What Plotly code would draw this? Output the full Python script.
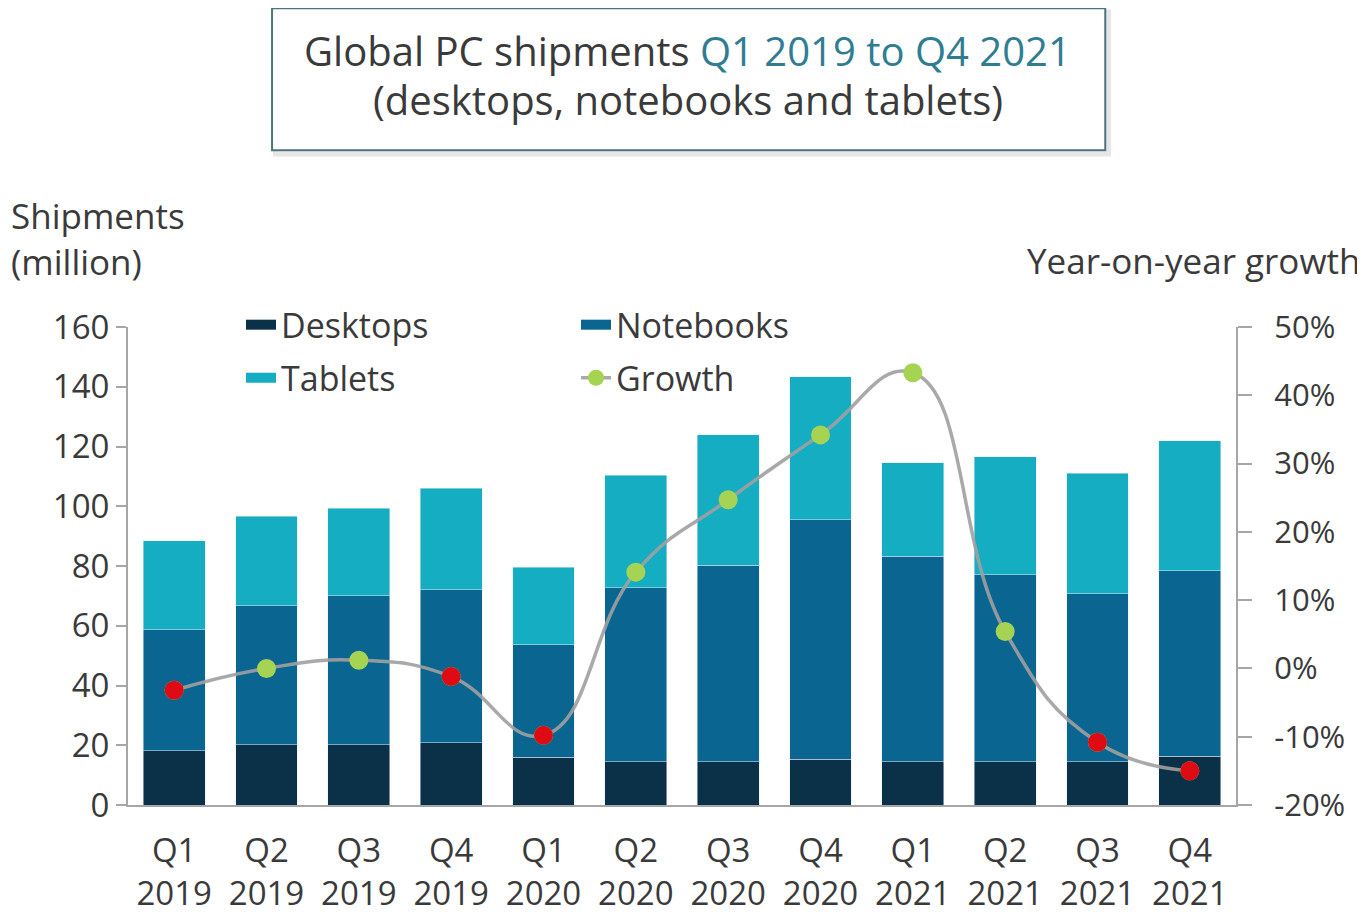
import plotly.graph_objects as go

# --- data (millions of units, YoY growth as fraction) ---
quarters = ["Q1<br>2019", "Q2<br>2019", "Q3<br>2019", "Q4<br>2019",
            "Q1<br>2020", "Q2<br>2020", "Q3<br>2020", "Q4<br>2020",
            "Q1<br>2021", "Q2<br>2021", "Q3<br>2021", "Q4<br>2021"]
desktops = [18.1, 20.1, 20.1, 20.9, 16.0, 14.5, 14.5, 15.3, 14.5, 14.5, 14.5, 16.4]
notebooks = [40.5, 46.6, 49.9, 51.1, 37.6, 58.3, 65.7, 80.2, 68.7, 62.6, 56.2, 62.0]
tablets = [29.9, 29.9, 29.4, 34.1, 26.0, 37.5, 43.8, 47.8, 31.3, 39.4, 40.4, 43.6]
growth = [-0.032, 0.0, 0.012, -0.012, -0.098, 0.141, 0.247, 0.342, 0.433, 0.054, -0.108, -0.150]
growth_ticks = [-0.2, -0.1, 0.0, 0.1, 0.2, 0.3, 0.4, 0.5]
growth_labels = ["-20%", "-10%", "0%", "10%", "20%", "30%", "40%", "50%"]

FONT = "Open Sans"
TXT = "#3a3a3a"
AXIS = "#a6a6a6"
C_DESK = "#0b3149"
C_NOTE = "#0a6690"
C_TAB = "#14adc1"
C_GREEN = "#a6d452"
C_RED = "#de0a14"
C_LINE = "rgba(160,160,160,0.9)"

negative = [g if g < 0 else None for g in growth]

fig = go.Figure()
fig.add_trace(go.Bar(x=quarters, y=desktops, name="Desktops", marker_color=C_DESK, showlegend=False))
fig.add_trace(go.Bar(x=quarters, y=notebooks, name="Notebooks", marker_color=C_NOTE, showlegend=False))
fig.add_trace(go.Bar(x=quarters, y=tablets, name="Tablets", marker_color=C_TAB, showlegend=False))

# legend-only entries so the swatches come out as wide blocks like the original
for name, col, leg in [("Desktops", C_DESK, "legend"), ("Notebooks", C_NOTE, "legend"),
                       ("Tablets", C_TAB, "legend2")]:
    fig.add_trace(go.Scatter(x=[None], y=[None], mode="lines", name=name, legend=leg,
                             line=dict(color=col, width=20)))

fig.add_trace(go.Scatter(x=quarters, y=growth, name="Growth", yaxis="y2",
                         mode="lines+markers", legend="legend2",
                         line=dict(color=C_LINE, width=3.5, shape="spline", smoothing=1.3),
                         marker=dict(size=19, color=C_GREEN)))
fig.add_trace(go.Scatter(x=quarters, y=negative, name="Growth (negative)", yaxis="y2",
                         mode="markers", showlegend=False,
                         marker=dict(size=19, color=C_RED)))

# page body has an 8px margin, so the figure is 8px smaller than the window
fig.update_layout(
    width=1357, height=909,
    margin=dict(l=120, r=129, t=319, b=112),
    paper_bgcolor="white", plot_bgcolor="white",
    barmode="stack", bargap=0.33,
    font=dict(family=FONT, size=32, color=TXT),
    xaxis=dict(range=[-0.5, len(quarters) - 0.5], showline=True, linecolor=AXIS, linewidth=2,
               ticks="", automargin=False,
               tickfont=dict(size=33, color=TXT), ticklabelstandoff=15),
    yaxis=dict(range=[0, 160], dtick=20, showgrid=False, zeroline=False, automargin=False,
               showline=True, linecolor=AXIS, linewidth=2,
               ticks="outside", ticklen=10, tickcolor=AXIS, tickwidth=2,
               tickfont=dict(size=33, color=TXT)),
    yaxis2=dict(range=[-0.2, 0.5], tickvals=growth_ticks, ticktext=growth_labels,
                overlaying="y", side="right", showgrid=False, zeroline=False, automargin=False,
                showline=True, linecolor=AXIS, linewidth=2,
                ticks="outside", ticklen=14, tickcolor=AXIS, tickwidth=2,
                tickfont=dict(size=31, color=TXT), ticklabelstandoff=16),
    legend=dict(orientation="h", x=0.102, y=1.004, xanchor="left", yanchor="middle",
                font=dict(size=34, color=TXT), entrywidth=290, entrywidthmode="pixels",
                bgcolor="rgba(0,0,0,0)", traceorder="normal"),
    legend2=dict(orientation="h", x=0.102, y=0.893, xanchor="left", yanchor="middle",
                 font=dict(size=34, color=TXT), entrywidth=290, entrywidthmode="pixels",
                 bgcolor="rgba(0,0,0,0)", traceorder="normal"),
)

# title box
fig.add_shape(type="rect", xref="paper", yref="paper", x0=0.133, x1=0.885, y0=1.362, y1=1.659,
              line=dict(color="#e6e6e6", width=5), fillcolor="rgba(0,0,0,0)")
fig.add_shape(type="rect", xref="paper", yref="paper", x0=0.130, x1=0.882, y0=1.370, y1=1.667,
              line=dict(color="#4d7482", width=2), fillcolor="white")
fig.add_annotation(xref="paper", yref="paper", x=0.505, y=1.579, yanchor="middle", showarrow=False,
                   text="Global PC shipments <span style='color:#2f7d93'>Q1 2019 to Q4 2021</span>",
                   font=dict(size=40, color=TXT))
fig.add_annotation(xref="paper", yref="paper", x=0.505, y=1.475, yanchor="middle", showarrow=False,
                   text="(desktops, notebooks and tablets)", font=dict(size=40, color=TXT))

# axis titles
fig.add_annotation(xref="paper", yref="paper", x=-0.107, y=1.234, xanchor="left", yanchor="middle",
                   showarrow=False, align="left", text="Shipments",
                   font=dict(size=35, color=TXT))
fig.add_annotation(xref="paper", yref="paper", x=-0.107, y=1.136, xanchor="left", yanchor="middle",
                   showarrow=False, align="left", text="(million)",
                   font=dict(size=35, color=TXT))
fig.add_annotation(xref="paper", yref="paper", x=1.1137, y=1.140, xanchor="right", yanchor="middle",
                   showarrow=False, text="Year-on-year growth",
                   font=dict(size=35, color=TXT))

fig.write_html("out.html")
